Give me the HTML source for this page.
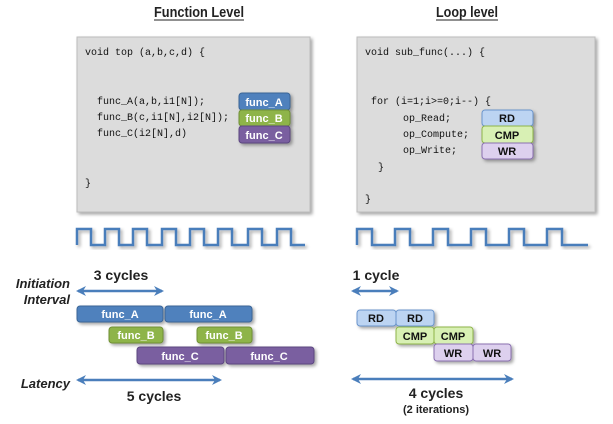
<!DOCTYPE html>
<html><head><meta charset="utf-8"><style>
html,body{margin:0;padding:0;background:#fff;width:613px;height:424px;overflow:hidden}
svg{display:block}
.t{font-family:"Liberation Sans",sans-serif;font-weight:bold}
.c{font-family:"Liberation Mono",monospace;font-size:10px;fill:#111}
</style></head><body>
<svg width="613" height="424" viewBox="0 0 613 424" xmlns="http://www.w3.org/2000/svg">
<defs>
<filter id="sh" x="-10%" y="-10%" width="130%" height="140%"><feDropShadow dx="2" dy="2" stdDeviation="1.5" flood-color="#000" flood-opacity="0.35"/></filter>
<marker id="ah" viewBox="0 0 10 10" refX="8" refY="5" markerWidth="4" markerHeight="4" orient="auto-start-reverse"><path d="M0,0 L10,5 L0,10 L3,5 z" fill="#4a7ebb"/></marker>
</defs>
<text x="199" y="17" text-anchor="middle" class="t" font-size="15" fill="#222" textLength="90" lengthAdjust="spacingAndGlyphs">Function Level</text>
<line x1="154" y1="20" x2="244" y2="20" stroke="#222" stroke-width="1"/>
<text x="467" y="17" text-anchor="middle" class="t" font-size="15" fill="#222" textLength="62" lengthAdjust="spacingAndGlyphs">Loop level</text>
<line x1="436" y1="20" x2="498" y2="20" stroke="#222" stroke-width="1"/>
<rect x="77" y="37" width="233" height="175" fill="#dcdcdc" stroke="#bdbdbd" filter="url(#sh)"/>
<rect x="357" y="37" width="238" height="175" fill="#dcdcdc" stroke="#bdbdbd" filter="url(#sh)"/>
<g class="c">
<text x="85" y="55">void top (a,b,c,d) {</text>
<text x="97" y="104">func_A(a,b,i1[N]);</text>
<text x="97" y="120">func_B(c,i1[N],i2[N]);</text>
<text x="97" y="136">func_C(i2[N],d)</text>
<text x="85" y="186">}</text>
<text x="365" y="55">void sub_func(...) {</text>
<text x="371" y="104">for (i=1;i&gt;=0;i--) {</text>
<text x="403" y="121">op_Read;</text>
<text x="403" y="137">op_Compute;</text>
<text x="403" y="153">op_Write;</text>
<text x="378" y="170">}</text>
<text x="365" y="202">}</text>
</g>
<g class="t" font-size="11" text-anchor="middle" filter="url(#sh)">
<rect x="239" y="93" width="51" height="17" rx="3" fill="#4f81bd" stroke="#3a6596"/>
<rect x="239" y="110" width="51" height="16" rx="3" fill="#8eb44a" stroke="#6f8f35"/>
<rect x="239" y="126" width="51" height="17" rx="3" fill="#7a5fa0" stroke="#5c4680"/>
<rect x="482" y="110" width="51" height="16" rx="3" fill="#bcd4f2" stroke="#6b95cc"/>
<rect x="482" y="126" width="51" height="17" rx="3" fill="#d8f0b4" stroke="#8eb44a"/>
<rect x="482" y="143" width="51" height="16" rx="3" fill="#ddd0ee" stroke="#8a6fb0"/>
</g>
<g class="t" font-size="11" text-anchor="middle">
<text x="264" y="106" fill="#fff">func_A</text>
<text x="264" y="122" fill="#fff">func_B</text>
<text x="264" y="139" fill="#fff">func_C</text>
<text x="507" y="122" fill="#111">RD</text>
<text x="507" y="139" fill="#111">CMP</text>
<text x="507" y="155" fill="#111">WR</text>
</g>
<path d="M77,245 V229 H91 V245 H105 V229 H119 V245 H133 V229 H147 V245 H162 V229 H176 V245 H190 V229 H204 V245 H218 V229 H232 V245 H248 V229 H262 V245 H277 V229 H291 V245 H305" fill="none" stroke="#4a7ebb" stroke-width="2.5" filter="url(#sh)"/>
<path d="M357,245 V229 H372 V245 H395 V229 H410 V245 H433 V229 H448 V245 H471 V229 H486 V245 H509 V229 H524 V245 H547 V229 H562 V245 H588" fill="none" stroke="#4a7ebb" stroke-width="2.5" filter="url(#sh)"/>
<g class="t" font-style="italic" font-size="13" fill="#222" text-anchor="end">
<text x="70" y="288">Initiation</text>
<text x="70" y="304">Interval</text>
<text x="70" y="388">Latency</text>
</g>
<text x="121" y="280" text-anchor="middle" class="t" font-size="14" fill="#222">3 cycles</text>
<line x1="78" y1="291" x2="162" y2="291" stroke="#4a7ebb" stroke-width="2.5" marker-start="url(#ah)" marker-end="url(#ah)"/>
<g filter="url(#sh)">
<rect x="77" y="306" width="86" height="16" rx="3" fill="#4f81bd" stroke="#3a6596"/>
<rect x="165" y="306" width="87" height="16" rx="3" fill="#4f81bd" stroke="#3a6596"/>
<rect x="109" y="327" width="54" height="16" rx="3" fill="#8eb44a" stroke="#6f8f35"/>
<rect x="197" y="327" width="55" height="16" rx="3" fill="#8eb44a" stroke="#6f8f35"/>
<rect x="137" y="347" width="87" height="17" rx="3" fill="#7a5fa0" stroke="#5c4680"/>
<rect x="226" y="347" width="88" height="17" rx="3" fill="#7a5fa0" stroke="#5c4680"/>
</g>
<g class="t" font-size="11" fill="#fff" text-anchor="middle">
<text x="120" y="318">func_A</text><text x="208" y="318">func_A</text>
<text x="136" y="339">func_B</text><text x="224" y="339">func_B</text>
<text x="180" y="360">func_C</text><text x="269" y="360">func_C</text>
</g>
<line x1="78" y1="380" x2="220" y2="380" stroke="#4a7ebb" stroke-width="2.5" marker-start="url(#ah)" marker-end="url(#ah)"/>
<text x="154" y="401" text-anchor="middle" class="t" font-size="14" fill="#222">5 cycles</text>
<text x="376" y="280" text-anchor="middle" class="t" font-size="14" fill="#222">1 cycle</text>
<line x1="353" y1="291" x2="397" y2="291" stroke="#4a7ebb" stroke-width="2.5" marker-start="url(#ah)" marker-end="url(#ah)"/>
<g filter="url(#sh)">
<rect x="357" y="310" width="39" height="16" rx="3" fill="#bcd4f2" stroke="#6b95cc"/>
<rect x="396" y="310" width="38" height="16" rx="3" fill="#bcd4f2" stroke="#6b95cc"/>
<rect x="396" y="327" width="38" height="17" rx="3" fill="#d8f0b4" stroke="#8eb44a"/>
<rect x="434" y="327" width="39" height="17" rx="3" fill="#d8f0b4" stroke="#8eb44a"/>
<rect x="434" y="344" width="39" height="17" rx="3" fill="#ddd0ee" stroke="#8a6fb0"/>
<rect x="473" y="344" width="38" height="17" rx="3" fill="#ddd0ee" stroke="#8a6fb0"/>
</g>
<g class="t" font-size="11" fill="#111" text-anchor="middle">
<text x="376" y="322">RD</text><text x="415" y="322">RD</text>
<text x="415" y="340">CMP</text><text x="453" y="340">CMP</text>
<text x="453" y="357">WR</text><text x="492" y="357">WR</text>
</g>
<line x1="353" y1="379" x2="512" y2="379" stroke="#4a7ebb" stroke-width="2.5" marker-start="url(#ah)" marker-end="url(#ah)"/>
<text x="436" y="398" text-anchor="middle" class="t" font-size="14" fill="#222">4 cycles</text>
<text x="436" y="413" text-anchor="middle" class="t" font-size="11" fill="#222" font-weight="normal">(2 iterations)</text>
</svg>
</body></html>
